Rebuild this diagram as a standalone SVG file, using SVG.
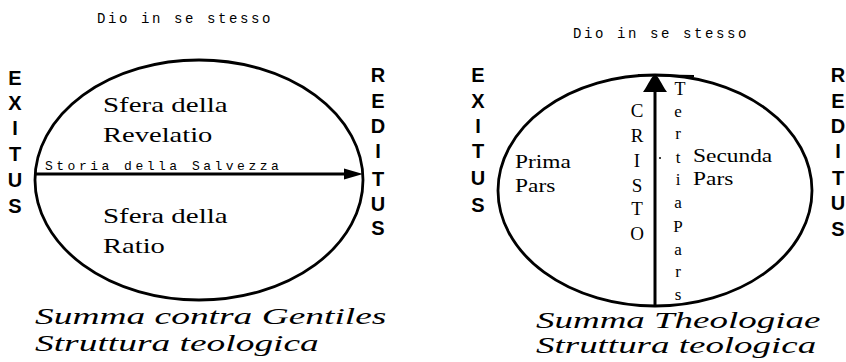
<svg xmlns="http://www.w3.org/2000/svg" width="846" height="362" viewBox="0 0 846 362">
<style>
.ring{fill:none;stroke:#000;stroke-width:2.8}
.ln{stroke:#000;stroke-width:3;fill:none}
.big{font-family:"Liberation Sans",Arial,sans-serif;font-weight:bold;font-size:20px;text-anchor:middle;fill:#000}
.sph{font-family:"Liberation Serif","Times New Roman",serif;font-size:21px;fill:#000}
.sm{font-family:"Liberation Serif","Times New Roman",serif;font-size:18px;fill:#000}
.mono{font-family:"Liberation Mono","Courier New",monospace;font-size:14px;fill:#000}
.it{font-family:"Liberation Serif","Times New Roman",serif;font-style:italic;font-size:24px;fill:#000}
.vs{font-family:"Liberation Serif","Times New Roman",serif;font-size:19px;text-anchor:middle;fill:#000}
.vm{font-family:"Liberation Serif","Times New Roman",serif;font-size:17px;text-anchor:middle;fill:#000}
</style>
<rect width="846" height="362" fill="#fff"/>

<g id="left-diagram">
  <g id="left-title"><text class="mono" x="97" y="23" letter-spacing="2.6">Dio in se stesso</text></g>
  <g id="left-circle"><ellipse class="ring" cx="199" cy="180" rx="164" ry="120"/></g>
  <g id="left-exitus">
    <text class="big" x="15" y="85">E</text>
    <text class="big" x="15" y="110">X</text>
    <text class="big" x="15" y="135">I</text>
    <text class="big" x="15" y="161">T</text>
    <text class="big" x="15" y="187">U</text>
    <text class="big" x="15" y="213">S</text>
  </g>
  <g id="left-reditus">
    <text class="big" x="378" y="82">R</text>
    <text class="big" x="378" y="108">E</text>
    <text class="big" x="378" y="133">D</text>
    <text class="big" x="378" y="158">I</text>
    <text class="big" x="378" y="186">T</text>
    <text class="big" x="378" y="211">U</text>
    <text class="big" x="378" y="235">S</text>
  </g>
  <g id="revelatio">
    <text class="sph" transform="translate(103,112) scale(1.38,1)">Sfera della</text>
    <text class="sph" transform="translate(103,142) scale(1.36,1)">Revelatio</text>
  </g>
  <g id="ratio">
    <text class="sph" transform="translate(103,223) scale(1.38,1)">Sfera della</text>
    <text class="sph" transform="translate(103,253) scale(1.36,1)">Ratio</text>
  </g>
  <g id="left-caption">
    <text class="it" transform="translate(35,324) scale(1.56,1)">Summa contra Gentiles</text>
    <text class="it" transform="translate(35,351) scale(1.56,1)">Struttura teologica</text>
  </g>
</g>

<g id="right-diagram">
  <g id="right-title"><text class="mono" x="573" y="38" letter-spacing="2.6">Dio in se stesso</text></g>
  <g id="right-circle"><ellipse class="ring" cx="655" cy="190.5" rx="157" ry="115.5"/></g>
  <g id="right-exitus">
    <text class="big" x="478" y="82">E</text>
    <text class="big" x="478" y="108">X</text>
    <text class="big" x="478" y="133">I</text>
    <text class="big" x="478" y="158">T</text>
    <text class="big" x="478" y="185">U</text>
    <text class="big" x="478" y="212">S</text>
  </g>
  <g id="right-reditus">
    <text class="big" x="838" y="82">R</text>
    <text class="big" x="838" y="108">E</text>
    <text class="big" x="838" y="133">D</text>
    <text class="big" x="838" y="158">I</text>
    <text class="big" x="838" y="185">T</text>
    <text class="big" x="838" y="210">U</text>
    <text class="big" x="838" y="236">S</text>
  </g>
  <g id="prima-pars">
    <text class="sm" transform="translate(515,168) scale(1.3,1)">Prima</text>
    <text class="sm" transform="translate(515,192) scale(1.3,1)">Pars</text>
  </g>
  <g id="secunda-pars">
    <text class="sm" transform="translate(693,162) scale(1.3,1)">Secunda</text>
    <text class="sm" transform="translate(693,185) scale(1.3,1)">Pars</text>
  </g>
  <g id="cristo">
    <text class="vs" x="637" y="117">C</text>
    <text class="vs" x="637" y="142">R</text>
    <text class="vs" x="637" y="167">I</text>
    <text class="vs" x="637" y="192">S</text>
    <text class="vs" x="637" y="215">T</text>
    <text class="vs" x="637" y="240">O</text>
  </g>
  <g id="tertia-pars">
    <text class="vs" style="font-size:18px" x="680" y="95">T</text>
    <text class="vm" x="678" y="117">e</text>
    <text class="vm" x="678" y="139">r</text>
    <text class="vm" x="678" y="163">t</text>
    <text class="vm" x="678" y="185">i</text>
    <text class="vm" x="678" y="208">a</text>
    <text class="vm" x="678" y="232">P</text>
    <text class="vm" x="678" y="255">a</text>
    <text class="vm" x="678" y="277">r</text>
    <text class="vm" x="678" y="300">s</text>
  </g>
  <g id="right-caption">
    <text class="it" transform="translate(536,328) scale(1.54,1)">Summa Theologiae</text>
    <text class="it" transform="translate(536,353) scale(1.54,1)">Struttura teologica</text>
  </g>
</g>

<g id="connectors">
  <text class="mono" style="font-size:13px" x="45" y="170" letter-spacing="3.5">Storia della Salvezza</text>
  <line class="ln" x1="35" y1="174" x2="348" y2="174"/>
  <polygon points="344,168.5 363,174 344,179.5" fill="#000"/>
  <line class="ln" x1="655" y1="306" x2="655" y2="90"/>
  <path d="M655,75 C659,76 661,84 667,92 L643,92 C649,84 651,76 655,75 Z" fill="#000"/>
  <line x1="638" y1="75" x2="694" y2="76" stroke="#000" stroke-width="2"/>
  <circle cx="660" cy="158" r="1" fill="#000"/>
</g>
</svg>
